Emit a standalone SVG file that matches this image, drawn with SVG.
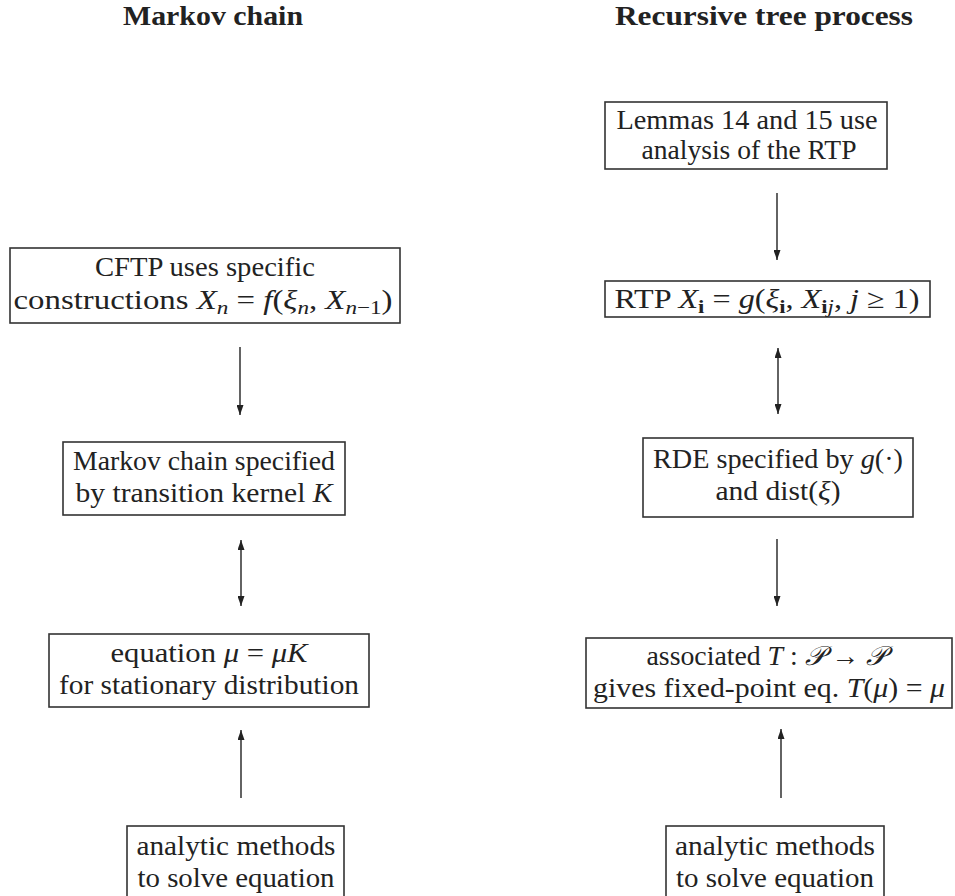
<svg xmlns="http://www.w3.org/2000/svg" width="955" height="896" viewBox="0 0 955 896">
<defs>
<marker id="ah" markerUnits="userSpaceOnUse" markerWidth="10" markerHeight="7" refX="10" refY="3.5" orient="auto-start-reverse">
<path d="M0,0 L10,3.5 L0,7 z" fill="#222"/>
</marker>
<style>
.box{fill:#fff;stroke:#333;stroke-width:1.6}
.t{font-family:"Liberation Serif","DejaVu Serif","Times New Roman",serif;font-size:27px;fill:#222;text-anchor:middle}
.title{font-family:"Liberation Serif","DejaVu Serif","Times New Roman",serif;font-size:27px;font-weight:bold;fill:#222;text-anchor:middle}
.i{font-style:italic}
.b{font-weight:bold}
.s{font-size:19px}
.arr{stroke:#222;stroke-width:1.4;fill:none;marker-end:url(#ah)}
.dbl{stroke:#222;stroke-width:1.4;fill:none;marker-end:url(#ah);marker-start:url(#ah)}
</style>
</defs>
<rect width="955" height="896" fill="#fff"/>
<g id="titles">
<text class="title" x="213" y="25" textLength="180" lengthAdjust="spacingAndGlyphs">Markov chain</text>
<text class="title" x="764" y="25" textLength="298" lengthAdjust="spacingAndGlyphs">Recursive tree process</text>
</g>
<g id="connectors">
<line class="arr" x1="240" y1="347" x2="240" y2="415"/>
<line class="dbl" x1="241" y1="540" x2="241" y2="606"/>
<line class="arr" x1="241" y1="798" x2="241" y2="730"/>
<line class="arr" x1="777" y1="193" x2="777" y2="260"/>
<line class="dbl" x1="778" y1="348" x2="778" y2="414"/>
<line class="arr" x1="777" y1="539" x2="777" y2="606"/>
<line class="arr" x1="781" y1="798" x2="781" y2="729"/>
</g>
<g id="cftp">
<rect class="box" x="10" y="248" width="390" height="75"/>
<text class="t" x="205" y="276" textLength="220" lengthAdjust="spacingAndGlyphs">CFTP uses specific</text>
<text class="t" x="203" y="309" textLength="379" lengthAdjust="spacingAndGlyphs">constructions <tspan class="i">X</tspan><tspan class="s i" dy="5">n</tspan><tspan dy="-5"> = </tspan><tspan class="i">f</tspan>(<tspan class="i">ξ</tspan><tspan class="s i" dy="5">n</tspan><tspan dy="-5">, </tspan><tspan class="i">X</tspan><tspan class="s" dy="5"><tspan class="i">n</tspan>−1</tspan><tspan dy="-5">)</tspan></text>
</g>
<g id="markov">
<rect class="box" x="63" y="442" width="282" height="73"/>
<text class="t" x="204" y="470" textLength="262" lengthAdjust="spacingAndGlyphs">Markov chain specified</text>
<text class="t" x="204" y="502" textLength="257" lengthAdjust="spacingAndGlyphs">by transition kernel <tspan class="i">K</tspan></text>
</g>
<g id="equation">
<rect class="box" x="49" y="634" width="320" height="73"/>
<text class="t" x="209" y="662" textLength="197" lengthAdjust="spacingAndGlyphs">equation <tspan class="i">μ</tspan> = <tspan class="i">μK</tspan></text>
<text class="t" x="209" y="694" textLength="300" lengthAdjust="spacingAndGlyphs">for stationary distribution</text>
</g>
<g id="analyticL">
<rect class="box" x="127" y="826" width="217" height="90"/>
<text class="t" x="236" y="855" textLength="199" lengthAdjust="spacingAndGlyphs">analytic methods</text>
<text class="t" x="236" y="887" textLength="197" lengthAdjust="spacingAndGlyphs">to solve equation</text>
</g>
<g id="lemmas">
<rect class="box" x="605" y="102" width="282" height="67"/>
<text class="t" x="747" y="129" textLength="261" lengthAdjust="spacingAndGlyphs">Lemmas 14 and 15 use</text>
<text class="t" x="749" y="159" textLength="215" lengthAdjust="spacingAndGlyphs">analysis of the RTP</text>
</g>
<g id="rtp">
<rect class="box" x="605" y="281" width="325" height="36"/>
<text class="t" x="767" y="308" textLength="305" lengthAdjust="spacingAndGlyphs">RTP <tspan class="i">X</tspan><tspan class="s b" dy="5">i</tspan><tspan dy="-5"> = </tspan><tspan class="i">g</tspan>(<tspan class="i">ξ</tspan><tspan class="s b" dy="5">i</tspan><tspan dy="-5">, </tspan><tspan class="i">X</tspan><tspan class="s" dy="5"><tspan class="b">i</tspan><tspan class="i">j</tspan></tspan><tspan dy="-5">, </tspan><tspan class="i">j</tspan> ≥ 1)</text>
</g>
<g id="rde">
<rect class="box" x="643" y="438" width="270" height="79"/>
<text class="t" x="778" y="468" textLength="250" lengthAdjust="spacingAndGlyphs">RDE specified by <tspan class="i">g</tspan>(·)</text>
<text class="t" x="778" y="500" textLength="125" lengthAdjust="spacingAndGlyphs">and dist(<tspan class="i">ξ</tspan>)</text>
</g>
<g id="associated">
<rect class="box" x="586" y="638" width="366" height="70"/>
<text class="t" x="766" y="665" textLength="239" lengthAdjust="spacingAndGlyphs">associated <tspan class="i">T</tspan> : <tspan class="i">𝒫</tspan> → <tspan class="i">𝒫</tspan></text>
<text class="t" x="769" y="697" textLength="352" lengthAdjust="spacingAndGlyphs">gives fixed-point eq. <tspan class="i">T</tspan>(<tspan class="i">μ</tspan>) = <tspan class="i">μ</tspan></text>
</g>
<g id="analyticR">
<rect class="box" x="666" y="826" width="218" height="90"/>
<text class="t" x="775" y="855" textLength="200" lengthAdjust="spacingAndGlyphs">analytic methods</text>
<text class="t" x="775" y="887" textLength="198" lengthAdjust="spacingAndGlyphs">to solve equation</text>
</g>
</svg>
